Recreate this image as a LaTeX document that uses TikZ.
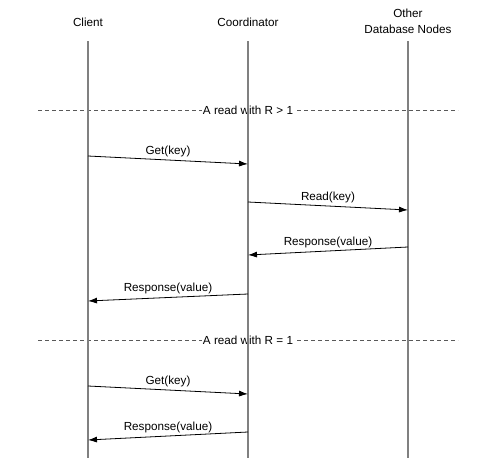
\documentclass[tikz,border=0pt]{standalone}
\usepackage{fontspec}
\setmainfont{Liberation Sans}
\usetikzlibrary{arrows.meta,positioning}

\tikzset{
  lifeline/.style={draw=black!50, line width=1.5pt},
  msg/.style={-{Latex[length=9pt,width=6pt]}, line width=0.8pt},
  txt/.style={font=\fontsize{11.7}{16}\selectfont, inner sep=0pt},
  divider/.style={draw=black!65, dash pattern=on 4pt off 3pt, line width=0.9pt},
}

\begin{document}
\begin{tikzpicture}[x=1pt,y=-1pt]
        \useasboundingbox (0,0) rectangle (496,458);

        % Participants
        \node[txt] (client) at (88,22) {Client};
        \node[txt] (coord) at (248,22) {Coordinator};
        \node[txt, align=center] (others) at (408,21) {Other\\Database Nodes};

        % Section dividers
        \coordinate (divAl) at (38,110);
        \coordinate (divAr) at (458,110);
        \coordinate (divBl) at (38,340);
        \coordinate (divBr) at (458,340);
        \draw[divider] (divAl) -- (divAr);
        \draw[divider] (divBl) -- (divBr);
        \node[txt, fill=white, inner xsep=0.5pt, inner ysep=2pt] (divA) at (248,110) {A read with R > 1};
        \node[txt, fill=white, inner xsep=0.5pt, inner ysep=2pt] (divB) at (248,340) {A read with R = 1};

        % Lifelines
        \foreach \n/\x in {client/88, coord/248, others/408} {
            \coordinate (\n top) at (\x,41);
            \coordinate (\n end) at (\x,458);
            \draw[lifeline] (\n top) -- (\n end);
        }

        % Messages (start/end points on the lifelines)
        \coordinate (m1a) at (88,156);  \coordinate (m1b) at (248,164);
        \coordinate (m2a) at (248,202); \coordinate (m2b) at (408,210);
        \coordinate (m3a) at (408,247); \coordinate (m3b) at (248,255);
        \coordinate (m4a) at (248,294); \coordinate (m4b) at (88,301);
        \coordinate (m5a) at (88,386);  \coordinate (m5b) at (248,394);
        \coordinate (m6a) at (248,432); \coordinate (m6b) at (88,440);

        \draw[msg] (m1a) -- node[txt, midway, above=3pt] (m1) {Get(key)} (m1b);
        \draw[msg] (m2a) -- node[txt, midway, above=3pt] (m2) {Read(key)} (m2b);
        \draw[msg] (m3a) -- node[txt, midway, above=3pt] (m3) {Response(value)} (m3b);
        \draw[msg] (m4a) -- node[txt, midway, above=3pt] (m4) {Response(value)} (m4b);
        \draw[msg] (m5a) -- node[txt, midway, above=3pt] (m5) {Get(key)} (m5b);
        \draw[msg] (m6a) -- node[txt, midway, above=3pt] (m6) {Response(value)} (m6b);
\end{tikzpicture}
\end{document}
